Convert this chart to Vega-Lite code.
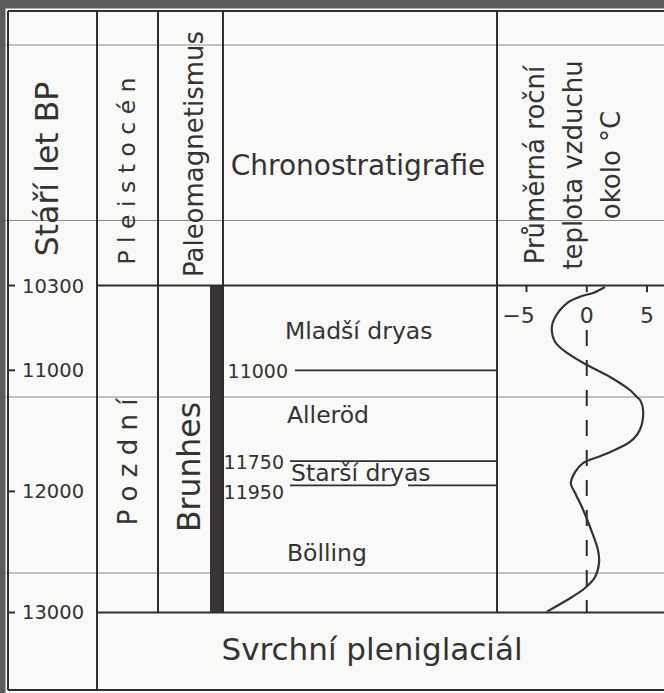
{
  "$schema": "https://vega.github.io/schema/vega-lite/v6.json",
  "width": 664,
  "height": 693,
  "padding": 0,
  "autosize": {"type": "none"},
  "background": "#5b5b5b",
  "config": {"view": {"stroke": null}, "text": {"font": "DejaVu Sans", "color": "#333333"}},
  "encoding": {
    "y": {"field": "yr", "type": "quantitative", "scale": {"domain": [7942.6, 13664.7], "reverse": true, "nice": false, "zero": false}, "axis": null}
  },
  "layer": [
    {
      "encoding": {
        "x": {"field": "x", "type": "quantitative", "scale": {"domain": [0, 664], "nice": false, "zero": false}, "axis": null}
      },
      "layer": [
        {
          "data": {"values": [{"x": 5.5, "x2": 700, "yr": 8012.8, "yr2": 13700}]},
          "mark": {"type": "rect", "color": "#f9f9f7"},
          "encoding": {"x2": {"field": "x2"}, "y2": {"field": "yr2"}}
        },
        {
          "data": {"values": [
            {"x": 5.5, "x2": 664, "yr": 8314.2, "yr2": 8314.2},
            {"x": 5.5, "x2": 664, "yr": 9763.3, "yr2": 9763.3},
            {"x": 5.5, "x2": 664, "yr": 11220.7, "yr2": 11220.7},
            {"x": 5.5, "x2": 664, "yr": 12673.9, "yr2": 12673.9}
          ]},
          "mark": {"type": "rule", "color": "#8a8a8a", "strokeWidth": 1},
          "encoding": {"x2": {"field": "x2"}, "y2": {"field": "yr2"}}
        },
        {
          "data": {"values": [{"x": 210, "x2": 222.5, "yr": 10300, "yr2": 13000}]},
          "mark": {"type": "rect", "color": "#3a3535"},
          "encoding": {"x2": {"field": "x2"}, "y2": {"field": "yr2"}}
        },
        {
          "data": {"values": [
            {"x": 8, "x2": 664, "yr": 8033.5, "yr2": 8033.5},
            {"x": 8, "x2": 8, "yr": 8033.5, "yr2": 13640},
            {"x": 8, "x2": 664, "yr": 13640, "yr2": 13640},
            {"x": 97, "x2": 97, "yr": 8033.5, "yr2": 13640},
            {"x": 158, "x2": 158, "yr": 8033.5, "yr2": 13000},
            {"x": 223, "x2": 223, "yr": 8033.5, "yr2": 13000},
            {"x": 497, "x2": 497, "yr": 8033.5, "yr2": 13000},
            {"x": 97, "x2": 664, "yr": 10300, "yr2": 10300},
            {"x": 97, "x2": 664, "yr": 13000, "yr2": 13000},
            {"x": 8, "x2": 15, "yr": 10300, "yr2": 10300},
            {"x": 8, "x2": 15, "yr": 11000, "yr2": 11000},
            {"x": 8, "x2": 15, "yr": 12000, "yr2": 12000},
            {"x": 8, "x2": 15, "yr": 13000, "yr2": 13000}
          ]},
          "mark": {"type": "rule", "color": "#2e2e2e", "strokeWidth": 2},
          "encoding": {"x2": {"field": "x2"}, "y2": {"field": "yr2"}}
        },
        {
          "data": {"values": [
            {"x": 295, "x2": 497, "yr": 11000, "yr2": 11000},
            {"x": 290, "x2": 497, "yr": 11750, "yr2": 11750},
            {"x": 290, "x2": 392, "yr": 11950, "yr2": 11950},
            {"x": 408, "x2": 497, "yr": 11950, "yr2": 11950}
          ]},
          "mark": {"type": "rule", "color": "#2e2e2e", "strokeWidth": 1.8},
          "encoding": {"x2": {"field": "x2"}, "y2": {"field": "yr2"}}
        },
        {
          "data": {"values": [
            {"x": 22, "yr": 10300, "label": "10300"},
            {"x": 22, "yr": 11000, "label": "11000"},
            {"x": 22, "yr": 12000, "label": "12000"},
            {"x": 22, "yr": 13000, "label": "13000"}
          ]},
          "mark": {"type": "text", "align": "left", "baseline": "middle", "fontSize": 19.5, "dy": 1},
          "encoding": {"text": {"field": "label"}}
        },
        {
          "data": {"values": [
            {"x": 288, "yr": 11000, "label": "11000"},
            {"x": 284, "yr": 11750, "label": "11750"}
          ]},
          "mark": {"type": "text", "align": "right", "baseline": "middle", "fontSize": 19, "dy": 2},
          "encoding": {"text": {"field": "label"}}
        },
        {
          "data": {"values": [
            {"x": 284, "yr": 11950, "label": "11950"}
          ]},
          "mark": {"type": "text", "align": "right", "baseline": "middle", "fontSize": 19, "dy": 8},
          "encoding": {"text": {"field": "label"}}
        },
        {
          "data": {"values": [
            {"x": 285, "yr": 10680, "label": "Mladší dryas"},
            {"x": 287, "yr": 11375, "label": "Alleröd"},
            {"x": 291, "yr": 11857, "label": "Starší dryas"},
            {"x": 287, "yr": 12520, "label": "Bölling"}
          ]},
          "mark": {"type": "text", "align": "left", "baseline": "middle", "fontSize": 23.5},
          "encoding": {"text": {"field": "label"}}
        },
        {
          "data": {"values": [
            {"x": 358, "yr": 9321.6, "label": "Chronostratigrafie"}
          ]},
          "mark": {"type": "text", "align": "center", "baseline": "middle", "fontSize": 28},
          "encoding": {"text": {"field": "label"}}
        },
        {
          "data": {"values": [
            {"x": 372, "yr": 13318, "label": "Svrchní pleniglaciál"}
          ]},
          "mark": {"type": "text", "align": "center", "baseline": "middle", "fontSize": 31},
          "encoding": {"text": {"field": "label"}}
        },
        {
          "data": {"values": [
            {"x": 49, "yr": 9338, "label": "Stáří let BP"},
            {"x": 191, "yr": 11798.6, "label": "Brunhes"}
          ]},
          "mark": {"type": "text", "align": "center", "baseline": "middle", "angle": 270, "fontSize": 31.5},
          "encoding": {"text": {"field": "label"}}
        },
        {
          "data": {"values": [
            {"x": 195, "yr": 9214, "label": "Paleomagnetismus"},
            {"x": 129, "yr": 11757, "label": "P o z d n í"}
          ]},
          "mark": {"type": "text", "align": "center", "baseline": "middle", "angle": 270, "fontSize": 26},
          "encoding": {"text": {"field": "label"}}
        },
        {
          "data": {"values": [
            {"x": 128, "yr": 9354.6, "label": "P l e i s t o c é n"}
          ]},
          "mark": {"type": "text", "align": "center", "baseline": "middle", "angle": 270, "fontSize": 23.5},
          "encoding": {"text": {"field": "label"}}
        },
        {
          "data": {"values": [
            {"x": 536, "yr": 9305, "label": ["Průměrná roční", "teplota vzduchu", "okolo °C"]}
          ]},
          "mark": {"type": "text", "align": "center", "baseline": "middle", "angle": 270, "fontSize": 26, "lineHeight": 38},
          "encoding": {"text": {"field": "label"}}
        }
      ]
    },
    {
      "encoding": {
        "x": {"field": "t", "type": "quantitative", "scale": {"domain": [-5, 5], "range": [526.5, 647], "nice": false, "zero": false}, "axis": null}
      },
      "layer": [
        {
          "data": {"values": [
            {"t": -5, "yr": 10300, "yr2": 10355},
            {"t": 0, "yr": 10300, "yr2": 10355},
            {"t": 5, "yr": 10300, "yr2": 10355}
          ]},
          "mark": {"type": "rule", "color": "#2e2e2e", "strokeWidth": 2},
          "encoding": {"y2": {"field": "yr2"}}
        },
        {
          "data": {"values": [{"t": 0, "yr": 10667, "yr2": 13000}]},
          "mark": {"type": "rule", "color": "#2e2e2e", "strokeWidth": 2, "strokeDash": [16, 14]},
          "encoding": {"y2": {"field": "yr2"}}
        },
        {
          "data": {"values": [
            {"t": 1.51, "yr": 10312}, {"t": 0.52, "yr": 10362}, {"t": -0.39, "yr": 10387},
            {"t": -1.63, "yr": 10445}, {"t": -2.62, "yr": 10560}, {"t": -2.9, "yr": 10645},
            {"t": -2.62, "yr": 10767}, {"t": -1.63, "yr": 10857}, {"t": 0.02, "yr": 10957},
            {"t": 1.93, "yr": 11055}, {"t": 3.58, "yr": 11163}, {"t": 4.16, "yr": 11221},
            {"t": 4.45, "yr": 11250}, {"t": 4.68, "yr": 11335}, {"t": 4.4, "yr": 11493},
            {"t": 3.58, "yr": 11592}, {"t": 1.35, "yr": 11700}, {"t": -0.31, "yr": 11766},
            {"t": -0.97, "yr": 11841}, {"t": -1.32, "yr": 11935}, {"t": -0.97, "yr": 12013},
            {"t": -0.41, "yr": 12127}, {"t": 0.27, "yr": 12294}, {"t": 0.93, "yr": 12484},
            {"t": 1.02, "yr": 12591}, {"t": 0.69, "yr": 12707}, {"t": -0.14, "yr": 12798},
            {"t": -1.63, "yr": 12897}, {"t": -3.31, "yr": 12993}
          ]},
          "mark": {"type": "line", "color": "#333333", "strokeWidth": 2.2, "interpolate": "catmull-rom"},
          "encoding": {"order": {"field": "yr", "type": "quantitative"}}
        },
        {
          "data": {"values": [
            {"t": 0, "yr": 10552, "label": "0"},
            {"t": 5, "yr": 10552, "label": "5"}
          ]},
          "mark": {"type": "text", "align": "center", "baseline": "middle", "fontSize": 22},
          "encoding": {"text": {"field": "label"}}
        },
        {
          "data": {"values": [
            {"t": -5, "yr": 10552, "label": "−5"}
          ]},
          "mark": {"type": "text", "align": "center", "baseline": "middle", "fontSize": 22, "dx": -8},
          "encoding": {"text": {"field": "label"}}
        }
      ]
    }
  ],
  "resolve": {"scale": {"x": "independent"}}
}
